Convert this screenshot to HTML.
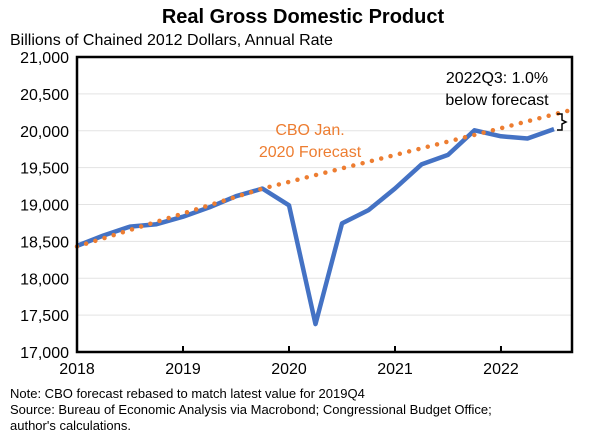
<!DOCTYPE html>
<html><head><meta charset="utf-8"><style>
body{margin:0;background:#fff}
svg text{font-family:"Liberation Sans",sans-serif}
</style></head><body>
<svg id="c" width="606" height="440">
<text x="303" y="23" text-anchor="middle" font-size="20" font-weight="bold">Real Gross Domestic Product</text>
<text x="10" y="45" font-size="16">Billions of Chained 2012 Dollars, Annual Rate</text>
<g id="grid"></g><g id="series"></g><g id="axes"></g>
<text x="310" y="135" text-anchor="middle" font-size="16" fill="#ED7D31">CBO Jan.</text>
<text x="310" y="157" text-anchor="middle" font-size="16" fill="#ED7D31">2020 Forecast</text>
<text x="497" y="83" text-anchor="middle" font-size="16">2022Q3: 1.0%</text>
<text x="497" y="105" text-anchor="middle" font-size="16">below forecast</text>
<path d="M557,114 h5 v6 l4,2 l-4,2 v6 h-5" fill="none" stroke="#000" stroke-width="1.5"/>
<text x="10" y="398" font-size="13">Note: CBO forecast rebased to match latest value for 2019Q4</text>
<text x="10" y="414" font-size="13">Source: Bureau of Economic Analysis via Macrobond; Congressional Budget Office;</text>
<text x="10" y="430" font-size="13">author's calculations.</text>
</svg>
<script>
const yTicks=[17000,17500,18000,18500,19000,19500,20000,20500,21000];
const xTicks=[2018,2019,2020,2021,2022];
const gdp=[18438,18580,18700,18733,18835,18962,19112,19216,18989,17378,18744,18924,19217,19544,19672,20006,19925,19895,20022];
const forecast=[18430,18542,18654,18766,18878,18990,19103,19216,19307,19398,19489,19580,19671,19762,19853,19944,20035,20128,20222,20313];
const L=77,R=572,T=57,B=352,X0=2018,X1=2022.67,Y0=17000,Y1=21000;
const xs=v=>L+(v-X0)/(X1-X0)*(R-L);
const ys=v=>B-(v-Y0)/(Y1-Y0)*(B-T);
const NS="http://www.w3.org/2000/svg";
function mk(t,a,p){const e=document.createElementNS(NS,t);for(const k in a)e.setAttribute(k,a[k]);p.appendChild(e);return e;}
const grid=document.getElementById('grid'),ser=document.getElementById('series'),ax=document.getElementById('axes');
yTicks.forEach(v=>{
 if(v>Y0){const g=mk('line',{x1:L,x2:R,y1:ys(v),y2:ys(v),stroke:'#e3e3e3','stroke-width':1},grid);
 
 }
 const t=mk('text',{x:L-8,y:ys(v)+6,'text-anchor':'end','font-size':16},ax);t.textContent=v.toLocaleString('en-US');
 
 
});
xTicks.forEach(v=>{
 const tk=mk('line',{x1:xs(v),x2:xs(v),y1:B,y2:B-6,stroke:'#000','stroke-width':2},ax);
 
 
 const t=mk('text',{x:xs(v),y:B+22,'text-anchor':'middle','font-size':16},ax);t.textContent=v;
 
 
});
const fr=mk('rect',{x:L,y:T,width:R-L,height:B-T,fill:'none',stroke:'#000','stroke-width':2.5},ax);


mk('clipPath',{id:'cp'},ser).innerHTML='<rect x="'+(L-4)+'" y="'+(T-20)+'" width="'+(R-L+4)+'" height="'+(B-T+20)+'"/>';
const pts=a=>a.map((v,i)=>xs(X0+i/4).toFixed(1)+','+ys(v).toFixed(1)).join(' ');
const bl=mk('polyline',{points:pts(gdp),fill:'none',stroke:'#4472C4','stroke-width':4.5,'stroke-linejoin':'round'},ser);


const fl=mk('polyline',{points:pts(forecast),fill:'none',stroke:'#ED7D31','stroke-width':4.5,'stroke-linecap':'round','stroke-dasharray':'0 9.6','clip-path':'url(#cp)'},ser);


</script>
</body></html>
